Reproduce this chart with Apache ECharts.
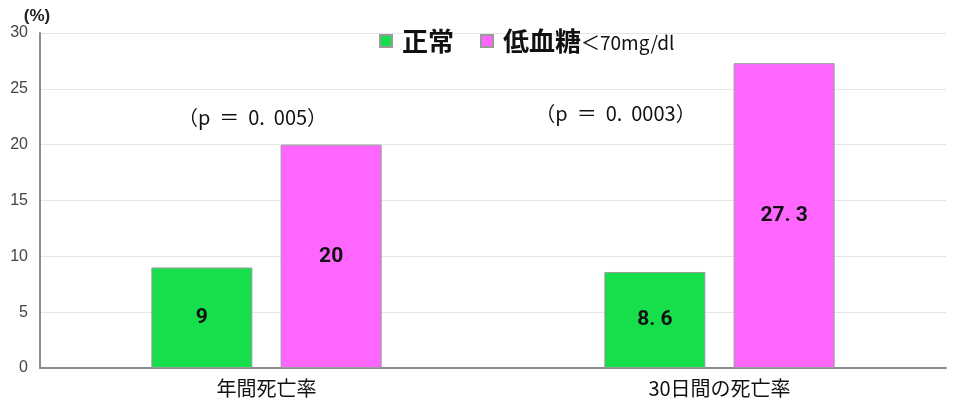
<!DOCTYPE html>
<html>
<head>
<meta charset="utf-8">
<script src="https://cdn.jsdelivr.net/npm/echarts@6/dist/echarts.min.js"></script>
<style>
  html, body { margin: 0; padding: 0; background: #fff; }
  #chart { width: 955px; height: 405px; }
</style>
</head>
<body>
<div id="chart"></div>
<script>
// Mortality rates: normal glucose vs. hypoglycemia
const categories = ['年間死亡率', '30日間の死亡率'];
const normalValues = [9, 8.6];
const hypoValues = [20, 27.3];
const pValueTexts = ['（p ＝ 0. 005）', '（p ＝ 0. 0003）'];
const yTicks = { min: 0, max: 30, interval: 5 };

const chart = echarts.init(document.getElementById('chart'));
const cjkFont = '"Noto Sans CJK JP", sans-serif';

function fmtValue(p) {
  // decimals written with a spaced full stop, e.g. "8. 6"
  return String(p.value).replace('.', '. ');
}

const barLabel = {
  show: true,
  position: 'inside',
  formatter: fmtValue,
  color: '#111',
  fontSize: 21,
  fontWeight: 'bold',
  fontFamily: 'Roboto, "Liberation Sans", sans-serif'
};

chart.setOption({
  animation: false,
  backgroundColor: '#fff',
  grid: { left: 40, right: 9, top: 33, bottom: 37, containLabel: false },
  legend: {
    top: 23,
    left: 374,
    itemWidth: 12,
    itemHeight: 12,
    itemGap: 26,
    icon: 'rect',
    textStyle: {
      fontFamily: cjkFont,
      fontSize: 26,
      fontWeight: 'bold',
      color: '#111',
      padding: [0, 0, 0, 5],
      rich: {
        big: { fontSize: 26, fontWeight: 'bold', color: '#111', fontFamily: cjkFont },
        small: { fontSize: 19, fontWeight: 'normal', color: '#111', fontFamily: cjkFont, padding: [4, 0, 0, 0] }
      }
    },
    formatter: function (name) {
      if (name === '低血糖') return '{big|低血糖}{small|＜70mg/dl}';
      return '{big|' + name + '}';
    },
    data: ['正常', '低血糖']
  },
  xAxis: {
    type: 'category',
    data: categories,
    axisLine: { lineStyle: { color: '#8c8c8c', width: 2 } },
    axisTick: { show: false },
    axisLabel: {
      color: '#111',
      fontSize: 20,
      margin: 10,
      fontFamily: cjkFont
    }
  },
  yAxis: {
    type: 'value',
    min: yTicks.min,
    max: yTicks.max,
    interval: yTicks.interval,
    name: '(%)',
    nameGap: 5,
    nameTextStyle: {
      color: '#222',
      fontSize: 17,
      fontWeight: 'bold',
      align: 'center',
      padding: [0, 0, 0, -6],
      fontFamily: '"Liberation Sans", sans-serif'
    },
    axisLine: { show: true, lineStyle: { color: '#8c8c8c', width: 2 } },
    axisTick: { show: false },
    axisLabel: {
      color: '#444',
      fontSize: 16,
      margin: 12,
      fontFamily: '"Liberation Sans", sans-serif'
    },
    splitLine: { lineStyle: { color: '#e6e6e6', width: 1 } }
  },
  series: [
    {
      name: '正常',
      type: 'bar',
      data: normalValues,
      barWidth: 101,
      barGap: '28%',
      itemStyle: { color: '#17DF4B', borderColor: '#9a9a9a', borderWidth: 1 },
      label: barLabel
    },
    {
      name: '低血糖',
      type: 'bar',
      data: hypoValues,
      barWidth: 101,
      itemStyle: { color: '#FF66FF', borderColor: '#9a9a9a', borderWidth: 1 },
      label: barLabel
    }
  ]
});

// p-value annotations placed relative to each category position
const pOffsets = [[-14, 22.4], [-104, 22.8]];
const graphics = categories.map(function (c, i) {
  const pt = chart.convertToPixel({ gridIndex: 0 }, [i, pOffsets[i][1]]);
  return {
    type: 'text',
    x: pt[0] + pOffsets[i][0],
    y: pt[1],
    style: {
      text: pValueTexts[i].replace(/ /g, '  '),
      fontSize: 20,
      fill: '#111',
      fontFamily: cjkFont,
      align: 'center',
      verticalAlign: 'middle'
    }
  };
});
chart.setOption({ graphic: graphics });
</script>
</body>
</html>
